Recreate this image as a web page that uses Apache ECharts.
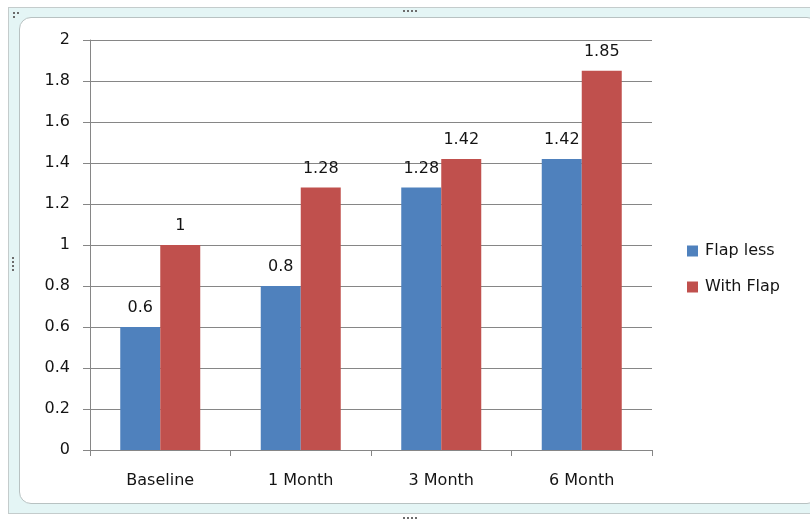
<!DOCTYPE html>
<html>
<head>
<meta charset="utf-8">
<script src="https://cdn.jsdelivr.net/npm/echarts@6/dist/echarts.min.js"></script>
<style>
  html, body { margin: 0; padding: 0; width: 810px; height: 520px; background: #ffffff; overflow: hidden; }
  .frame { position: absolute; left: 8px; top: 7px; width: 812px; height: 507px; border: 1px solid #c4cccc; background: #e4f5f5; box-sizing: border-box; }
  .inner { position: absolute; left: 19px; top: 17px; width: 800px; height: 487px; border: 1px solid #b8c2c2; border-radius: 12px; background: #ffffff; box-sizing: border-box; }
  .dots { position: absolute; }
  .dots span { position: absolute; width: 2px; height: 2px; background: #6c6c6c; }
  #chart { position: absolute; left: 0; top: 0; width: 810px; height: 520px; }
</style>
</head>
<body>
<div class="frame"></div>
<div class="inner"></div>
<div class="dots" id="handles"></div>
<div id="chart"></div>
<script>
// categories and values for the two groups
const categories = ['Baseline', '1 Month', '3 Month', '6 Month'];
const flapLess = [0.6, 0.8, 1.28, 1.42];
const withFlap = [1, 1.28, 1.42, 1.85];
const seriesNames = ['Flap less', 'With Flap'];

// resize handle dots on the frame
const handles = document.getElementById('handles');
function dot(x, y) {
  const s = document.createElement('span');
  s.style.left = x + 'px';
  s.style.top = y + 'px';
  handles.appendChild(s);
}
[[13, 12], [17, 12], [13, 16]].forEach(p => dot(p[0], p[1]));
[403, 407, 411, 415].forEach(x => dot(x, 10));
[403, 407, 411, 415].forEach(x => dot(x, 517));
[257, 261, 265, 269].forEach(y => dot(12, y));

const font = 'DejaVu Sans';
const chart = echarts.init(document.getElementById('chart'), null, { renderer: 'canvas' });
const labelStyle = {
  show: true,
  position: 'top',
  distance: 11,
  color: '#141414',
  fontFamily: font,
  fontSize: 16
};
chart.setOption({
  backgroundColor: 'transparent',
  animation: false,
  textStyle: { fontFamily: font },
  grid: { left: 90, top: 40, right: 158, bottom: 70, containLabel: false },
  legend: {
    orient: 'vertical',
    left: 682,
    top: 238,
    itemWidth: 11,
    itemHeight: 11,
    itemGap: 20,
    icon: 'rect',
    textStyle: { fontFamily: font, fontSize: 16, color: '#141414', padding: [0, 0, 0, 2] },
    data: seriesNames
  },
  xAxis: {
    type: 'category',
    data: categories,
    axisLine: { lineStyle: { color: '#868686', width: 1 } },
    axisTick: { show: true, length: 6, lineStyle: { color: '#868686' } },
    axisLabel: { color: '#141414', fontFamily: font, fontSize: 16, margin: 23 }
  },
  yAxis: {
    type: 'value',
    min: 0,
    max: 2,
    interval: 0.2,
    axisLine: { show: true, lineStyle: { color: '#868686', width: 1 } },
    axisTick: { show: true, length: 7, lineStyle: { color: '#868686' } },
    splitLine: { show: true, lineStyle: { color: '#868686', width: 1 } },
    axisLabel: {
      color: '#141414', fontFamily: font, fontSize: 16, margin: 20,
      formatter: v => String(Math.round(v * 10) / 10)
    }
  },
  series: [
    {
      name: seriesNames[0],
      type: 'bar',
      data: flapLess,
      barWidth: 40,
      barGap: '0%',
      itemStyle: { color: '#4f81bd' },
      label: labelStyle
    },
    {
      name: seriesNames[1],
      type: 'bar',
      data: withFlap,
      barWidth: 40,
      barGap: '0%',
      itemStyle: { color: '#c0504d' },
      label: labelStyle
    }
  ]
});
</script>
</body>
</html>
